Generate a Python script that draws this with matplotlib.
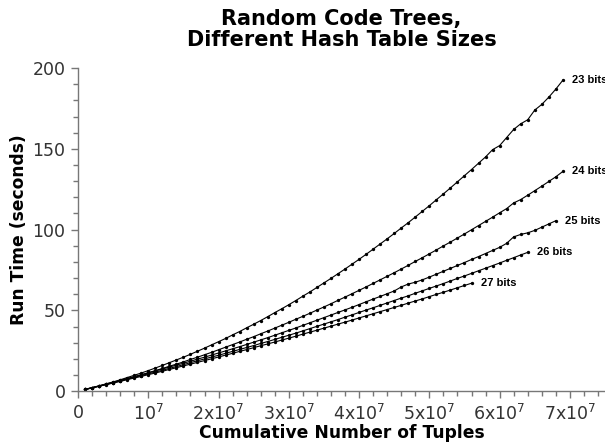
import matplotlib
matplotlib.use("Agg")
import matplotlib.pyplot as plt
from matplotlib.ticker import MultipleLocator, FixedLocator

# Run time (seconds) per hash table size, one sample every 10^6 tuples
bits_23 = [1.0, 2.1, 3.3, 4.5, 5.7, 7.0, 8.4, 9.8, 11.2, 12.7,
           14.3, 15.9, 17.6, 19.3, 21.0, 22.8, 24.7, 26.6, 28.6, 30.6,
           32.6, 34.8, 36.9, 39.2, 41.4, 43.7, 46.1, 48.6, 51.0, 53.5,
           56.1, 58.8, 61.4, 64.2, 67.0, 69.8, 72.7, 75.6, 78.6, 81.6,
           84.7, 87.9, 91.1, 94.3, 97.6, 101.0, 104.3, 107.8, 111.3, 114.8,
           118.5, 122.1, 125.8, 129.6, 133.4, 137.2, 141.1, 145.0, 149.5, 152.0,
           157.0, 162.0, 165.5, 168.0, 174.0, 177.5, 182.0, 187.0, 192.5]
bits_24 = [1.0, 2.1, 3.1, 4.2, 5.3, 6.5, 7.7, 8.9, 10.1, 11.4,
           12.7, 14.0, 15.4, 16.7, 18.1, 19.6, 21.0, 22.5, 24.0, 25.6,
           27.2, 28.8, 30.4, 32.1, 33.7, 35.5, 37.2, 39.0, 40.8, 42.6,
           44.5, 46.3, 48.2, 50.2, 52.1, 54.1, 56.2, 58.2, 60.3, 62.4,
           64.5, 66.7, 68.9, 71.1, 73.3, 75.6, 77.9, 80.3, 82.6, 85.0,
           87.4, 89.9, 92.3, 94.8, 97.3, 99.9, 102.5, 105.1, 107.7, 110.4,
           113.0, 116.5, 118.6, 121.3, 124.1, 126.9, 129.8, 132.7, 136.0]
bits_25 = [1.1, 2.2, 3.2, 4.4, 5.5, 6.6, 7.8, 9.0, 10.1, 11.3,
           12.5, 13.7, 14.9, 16.1, 17.3, 18.5, 19.8, 21.0, 22.3, 23.6,
           24.9, 26.2, 27.5, 28.9, 30.3, 31.7, 33.1, 34.6, 36.1, 37.6,
           39.1, 40.7, 42.3, 43.9, 45.5, 47.1, 48.7, 50.3, 51.9, 53.6,
           55.3, 57.0, 58.6, 60.3, 62.0, 64.5, 66.3, 67.4, 68.9, 70.6,
           72.4, 74.2, 76.0, 77.8, 79.6, 81.5, 83.3, 85.2, 87.1, 89.0,
           91.5, 95.5, 97.0, 98.0, 99.5, 101.5, 103.5, 105.5]
bits_26 = [1.0, 2.0, 3.1, 4.1, 5.2, 6.3, 7.4, 8.5, 9.6, 10.7,
           11.8, 12.9, 14.1, 15.2, 16.4, 17.6, 18.8, 19.9, 21.1, 22.2,
           23.4, 24.6, 25.8, 27.0, 28.2, 29.5, 30.7, 32.0, 33.3, 34.6,
           35.9, 37.3, 38.7, 40.1, 41.5, 42.9, 44.3, 45.8, 47.2, 48.7,
           50.2, 51.6, 53.1, 54.6, 56.1, 57.6, 59.0, 60.6, 62.1, 63.6,
           65.1, 66.6, 68.2, 69.8, 71.3, 72.9, 74.5, 76.1, 77.7, 79.3,
           81.0, 82.6, 84.3, 85.9]
bits_27 = [1.0, 2.0, 3.0, 4.0, 5.0, 6.0, 7.1, 8.1, 9.1, 10.2,
           11.2, 12.3, 13.4, 14.5, 15.6, 16.7, 17.8, 18.9, 20.0, 21.1,
           22.3, 23.4, 24.6, 25.7, 26.9, 28.1, 29.2, 30.4, 31.6, 32.8,
           34.0, 35.3, 36.5, 37.7, 39.0, 40.2, 41.5, 42.7, 44.0, 45.3,
           46.6, 47.9, 49.2, 50.5, 51.8, 53.1, 54.5, 55.8, 57.1, 58.5,
           59.9, 61.2, 62.6, 64.0, 65.4, 66.8]

series = [("23 bits", bits_23), ("24 bits", bits_24), ("25 bits", bits_25),
          ("26 bits", bits_26), ("27 bits", bits_27)]

tuple_step = 1e6
x_ticks = [0, 1e7, 2e7, 3e7, 4e7, 5e7, 6e7, 7e7]
x_tick_labels = ["0", "10$^7$", "2x10$^7$", "3x10$^7$", "4x10$^7$",
                 "5x10$^7$", "6x10$^7$", "7x10$^7$"]

fig = plt.figure(figsize=(6.05, 4.48), dpi=100)
ax = fig.add_axes([0.129, 0.127, 0.871, 0.721])

for name, times in series:
    xs = [tuple_step * (i + 1) for i in range(len(times))]
    ax.plot(xs, times, color="black", linewidth=0.8, marker="o",
            markersize=2.4, markeredgewidth=0)
    ax.annotate(name, (xs[-1], times[-1]), xytext=(6.5, 0),
                textcoords="offset points", ha="left", va="center",
                fontsize=8, fontweight="bold", family="Liberation Sans")

ax.set_xlim(0, 7.5e7)
ax.set_ylim(0, 200)

ax.xaxis.set_major_locator(FixedLocator(x_ticks))
ax.set_xticklabels(x_tick_labels)
ax.xaxis.set_minor_locator(MultipleLocator(2e6))
ax.yaxis.set_major_locator(MultipleLocator(50))
ax.yaxis.set_minor_locator(MultipleLocator(10))

for side in ["top", "right"]:
    ax.spines[side].set_visible(False)
for side in ["left", "bottom"]:
    ax.spines[side].set_color("#777777")
    ax.spines[side].set_linewidth(1.0)

ax.tick_params(which="major", length=5, width=1, color="#777777",
               labelsize=12.5, labelcolor="#333333", pad=4)
ax.tick_params(which="minor", length=3.5, width=1, color="#777777")

ax.set_xlabel("Cumulative Number of Tuples", fontsize=12.3,
              fontweight="bold", labelpad=0)
ax.set_ylabel("Run Time (seconds)", fontsize=12.3, fontweight="bold",
              labelpad=3)
ax.set_title("Random Code Trees,\nDifferent Hash Table Sizes", fontsize=15,
             fontweight="bold", pad=16, linespacing=1.05)

fig.savefig("out.png", dpi=100)
